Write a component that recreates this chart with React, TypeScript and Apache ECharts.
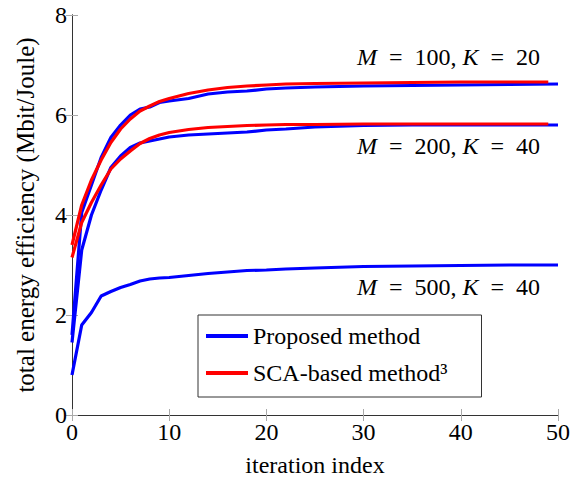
import React, { useEffect, useRef } from "react";
import * as echarts from "echarts";

const itersProposed = [0, 1, 2, 3, 4, 5, 6, 7, 8, 9, 10, 12, 14, 16, 18, 20, 22, 25, 30, 35, 40, 45, 50];
const itersSCA = [0, 1, 2, 3, 4, 5, 6, 7, 8, 9, 10, 12, 14, 16, 18, 20, 22, 25, 30, 35, 40, 45, 49];

const proposedM100 = [1.6, 4.05, 4.6, 5.15, 5.55, 5.8, 6.0, 6.12, 6.16, 6.25, 6.28, 6.33, 6.42, 6.46, 6.48, 6.52, 6.54, 6.56, 6.58, 6.59, 6.6, 6.61, 6.62];
const scaM100 = [3.4, 4.2, 4.7, 5.1, 5.45, 5.72, 5.92, 6.08, 6.18, 6.27, 6.33, 6.43, 6.5, 6.55, 6.58, 6.6, 6.62, 6.63, 6.64, 6.65, 6.66, 6.66, 6.66];
const proposedM200 = [1.45, 3.3, 4.0, 4.5, 4.95, 5.18, 5.35, 5.44, 5.48, 5.52, 5.56, 5.6, 5.62, 5.64, 5.66, 5.7, 5.72, 5.76, 5.79, 5.8, 5.8, 5.8, 5.8];
const scaM200 = [3.15, 3.85, 4.25, 4.6, 4.92, 5.12, 5.28, 5.43, 5.53, 5.6, 5.65, 5.71, 5.75, 5.77, 5.79, 5.8, 5.81, 5.81, 5.82, 5.82, 5.82, 5.82, 5.82];
const proposedM500 = [0.8, 1.8, 2.05, 2.38, 2.47, 2.55, 2.61, 2.68, 2.72, 2.74, 2.75, 2.79, 2.83, 2.86, 2.89, 2.9, 2.92, 2.94, 2.97, 2.98, 2.99, 3.0, 3.0];

const xTicks = [0, 10, 20, 30, 40, 50];
const yTicks = [0, 2, 4, 6, 8];
const legendNames = ["Proposed method", "SCA-based method\u00B3"];
const annotations = [
  { M: "500", K: "40" },
  { M: "200", K: "40" },
  { M: "100", K: "20" },
];

const FONT = "Liberation Serif";

function pairs(xs: number[], ys: number[]) {
  return xs.map((x, i) => [x, ys[i]]);
}

export default function App() {
  const ref = useRef<HTMLDivElement>(null);
  useEffect(() => {
    if (!ref.current) return;
    const chart = echarts.init(ref.current, undefined, { renderer: "svg" });
    const axisLine = { show: true, lineStyle: { color: "#333", width: 1 } };
    const axisTick = { show: true, inside: true, length: 6, lineStyle: { color: "#aaa", width: 1 } };
    const lineSeries = (name: string, color: string, data: number[][]) => ({
      name,
      type: "line",
      data,
      showSymbol: false,
      symbol: "none",
      smooth: false,
      lineStyle: { color, width: 3.2 },
      itemStyle: { color },
      xAxisIndex: 0,
      yAxisIndex: 0,
    });
    const annTop = [275, 134, 45];
    const sp = "\u2002";
    chart.setOption({
      animation: false,
      textStyle: { fontFamily: FONT },
      grid: { left: 72, right: 14, top: 15, bottom: 64, containLabel: false, outerBoundsMode: "none" },
      xAxis: [
        {
          type: "value",
          min: xTicks[0],
          max: xTicks[xTicks.length - 1],
          interval: 10,
          name: "iteration index",
          nameLocation: "middle",
          nameGap: 38,
          nameTextStyle: { fontFamily: FONT, fontSize: 24, color: "#000" },
          axisLine,
          axisTick,
          splitLine: { show: false },
          axisLabel: { fontFamily: FONT, fontSize: 24, color: "#000", margin: 5 },
        },
        {
          type: "value",
          position: "top",
          min: xTicks[0],
          max: xTicks[xTicks.length - 1],
          interval: 10,
          axisLine,
          axisTick,
          splitLine: { show: false },
          axisLabel: { show: false },
        },
      ],
      yAxis: [
        {
          type: "value",
          min: yTicks[0],
          max: yTicks[yTicks.length - 1],
          interval: 2,
          name: "total energy efficiency (Mbit/Joule)",
          nameLocation: "middle",
          nameGap: 34,
          nameTextStyle: { fontFamily: FONT, fontSize: 25, color: "#000" },
          axisLine,
          axisTick,
          splitLine: { show: false },
          axisLabel: { fontFamily: FONT, fontSize: 24, color: "#000", margin: 5 },
        },
        {
          type: "value",
          position: "right",
          min: yTicks[0],
          max: yTicks[yTicks.length - 1],
          interval: 2,
          axisLine,
          axisTick,
          splitLine: { show: false },
          axisLabel: { show: false },
        },
      ],
      legend: {
        data: legendNames,
        orient: "vertical",
        left: 198,
        top: 315,
        icon: "rect",
        itemWidth: 42,
        itemHeight: 4,
        itemGap: 9,
        padding: [7, 34, 10, 8],
        borderColor: "#333",
        borderWidth: 1,
        backgroundColor: "#fff",
        textStyle: { fontFamily: FONT, fontSize: 24, color: "#000", lineHeight: 28 },
        selectedMode: false,
      },
      graphic: annotations.map((a, i) => ({
        type: "text",
        right: 32,
        top: annTop[i],
        z: 10,
        style: {
          text: `{i|M}${sp}=${sp}${a.M}, {i|K}${sp}=${sp}${a.K}`,
          font: `24px ${FONT}`,
          fontFamily: FONT,
          fontSize: 24,
          fill: "#000",
          rich: {
            i: { fontStyle: "italic", fontFamily: FONT, fontSize: 24 },
          },
        },
      })),
      series: [
        lineSeries(legendNames[0], "#0000ff", pairs(itersProposed, proposedM500)),
        lineSeries(legendNames[0], "#0000ff", pairs(itersProposed, proposedM200)),
        lineSeries(legendNames[0], "#0000ff", pairs(itersProposed, proposedM100)),
        lineSeries(legendNames[1], "#ff0000", pairs(itersSCA, scaM200)),
        lineSeries(legendNames[1], "#ff0000", pairs(itersSCA, scaM100)),
      ],
    });
    return () => chart.dispose();
  }, []);
  return (
    <div
      ref={ref}
      style={{ position: "fixed", left: 0, top: 0, width: 572, height: 479, background: "#fff" }}
    />
  );
}
